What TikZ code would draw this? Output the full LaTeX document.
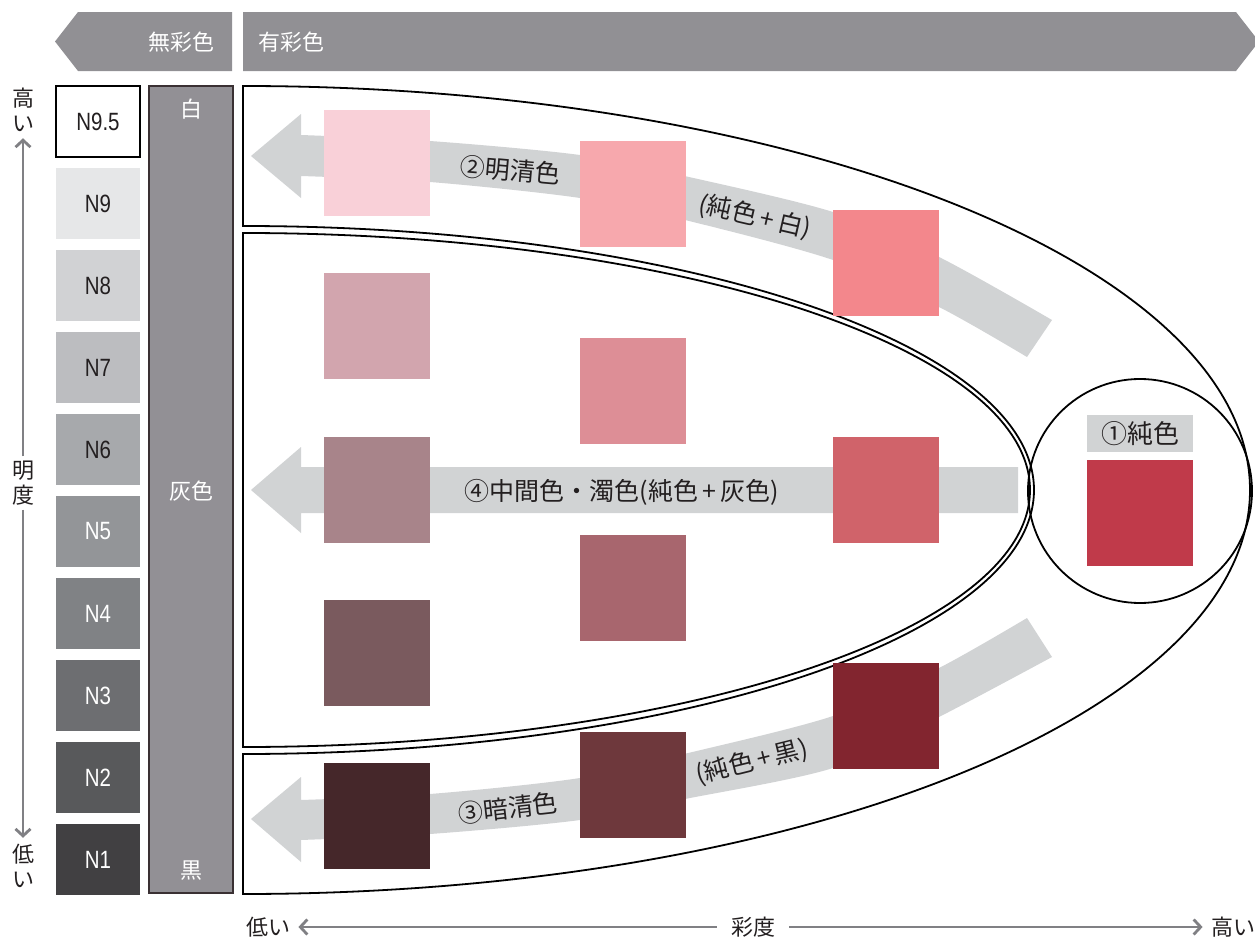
\documentclass[tikz,border=0pt]{standalone}
\usepackage{fontspec}
\setmainfont{Noto Sans CJK JP}
\newfontfamily\nfont[FakeStretch=0.82]{Liberation Sans}
\usetikzlibrary{arrows.meta, positioning}

\definecolor{ink}{HTML}{231F20}
\definecolor{bannergray}{HTML}{919094}
\definecolor{colgray}{HTML}{929095}
\definecolor{colborder}{HTML}{3A3033}
\definecolor{bandgray}{HTML}{D1D3D4}
\definecolor{axisgray}{HTML}{808084}
\definecolor{n9}{HTML}{E6E7E8}
\definecolor{n8}{HTML}{D1D2D4}
\definecolor{n7}{HTML}{BCBDC0}
\definecolor{n6}{HTML}{A7A9AC}
\definecolor{n5}{HTML}{939598}
\definecolor{n4}{HTML}{808285}
\definecolor{n3}{HTML}{6D6E71}
\definecolor{n2}{HTML}{58595B}
\definecolor{n1}{HTML}{414042}

\begin{document}
\begin{tikzpicture}[
    x=0.5pt,
    y=-0.5pt,
    node distance=5.5pt,
    every node/.style={text=ink},
    banner/.style={fill=bannergray},
    nbox/.style={minimum width=42pt, minimum height=35.5pt, inner sep=0pt, outer sep=0pt,
        font=\nfont\fontsize{12.5pt}{12.5pt}\selectfont},
    swatch/.style={minimum size=53pt, inner sep=0pt},
    region/.style={draw=black, line width=0.9pt},
    band/.style={fill=bandgray},
    bandtext/.style={font=\fontsize{12.5pt}{12.5pt}\selectfont, inner sep=0pt},
    wlabel/.style={text=white, font=\fontsize{11pt}{11pt}\selectfont},
    axis/.style={draw=axisgray, line width=1.4pt, -{Straight Barb[length=3.5pt, width=7.5pt]}},
    axislabel/.style={font=\fontsize{11pt}{12.5pt}\selectfont, align=center, inner sep=0pt},
]
    \useasboundingbox (0,0) rectangle (1255,937);

    % banners
    \fill[banner] (232,12) -- (78,12) -- (55,41.5) -- (78,71) -- (232,71) -- cycle;
    \fill[banner] (243,12) -- (1236,12) -- (1259,41.5) -- (1236,71) -- (243,71) -- cycle;
    \node[wlabel, anchor=east] (achrom) at (222,42) {無彩色};
    \node[wlabel, anchor=west] (chrom)  at (251,42) {有彩色};

    % value axis
    \node[axislabel] (valHigh) at (23,110) {高\\い};
    \node[axislabel] (value)   at (23,483) {明\\度};
    \node[axislabel] (valLow)  at (23,866) {低\\い};
    \draw[axis, shorten <=2pt, shorten >=3pt] (value) -- (valHigh);
    \draw[axis, shorten <=2pt, shorten >=3pt] (value) -- (valLow);

    % chroma axis
    \node[axislabel] (chrLow)  at (268,927)  {低い};
    \node[axislabel] (chroma)  at (753,927)  {彩度};
    \node[axislabel] (chrHigh) at (1233,927) {高い};
    \draw[axis, shorten <=7pt, shorten >=4pt] (chroma) -- (chrLow);
    \draw[axis, shorten <=7pt, shorten >=4pt] (chroma) -- (chrHigh);

    % neutral scale
    \node[nbox, draw=black, line width=0.6pt, fill=white] (n95) at (98,121.5) {N9.5};
    \node[nbox, fill=n9, below=of n95] (n9b) {N9};
    \node[nbox, fill=n8, below=of n9b] (n8b) {N8};
    \node[nbox, fill=n7, below=of n8b] (n7b) {N7};
    \node[nbox, fill=n6, below=of n7b] (n6b) {N6};
    \node[nbox, fill=n5, below=of n6b, text=white] (n5b) {N5};
    \node[nbox, fill=n4, below=of n5b, text=white] (n4b) {N4};
    \node[nbox, fill=n3, below=of n4b, text=white] (n3b) {N3};
    \node[nbox, fill=n2, below=of n3b, text=white] (n2b) {N2};
    \node[nbox, fill=n1, below=of n2b, text=white] (n1b) {N1};

    \node[minimum width=42pt, minimum height=403.5pt, fill=colgray, draw=colborder,
        line width=0.6pt] (grayCol) at (191,489.5) {};
    \node[wlabel] (white) at (191,109) {白};
    \node[wlabel] (gray)  at (191,491) {灰色};
    \node[wlabel] (black) at (191,871) {黒};

    % regions
    \draw[region] (243,86) arc[start angle=90, end angle=-90, x radius=503.5pt, y radius=202pt]
        -- (243,754) arc[start angle=-90, end angle=90, x radius=395.5pt, y radius=132pt] -- cycle;
    \draw[region] (243,233) arc[start angle=90, end angle=-90, x radius=393.5pt, y radius=128.5pt] -- cycle;
    \node[draw=black, line width=0.9pt, circle, minimum size=112pt, inner sep=0pt] (pureRing) at (1140,491) {};

    % arrows
    \fill[band] plot[smooth] coordinates {(301,135) (430,141) (580,155) (680,175) (833,212) (939,257) (1052,320)}
        -- plot[smooth] coordinates {(1027,357) (939,307) (833,260) (685,220) (580,198) (430,182) (301,176)}
        -- (301,198) -- (251,156) -- (301,114) -- cycle;
    \fill[band] plot[smooth] coordinates {(301,800) (430,794) (580,778) (680,755) (833,716) (939,668) (1027,618)}
        -- plot[smooth] coordinates {(1052,657) (939,717) (833,768) (680,800) (580,820) (430,834) (301,840)}
        -- (301,862) -- (251,819) -- (301,777) -- cycle;
    \fill[band] (1018,467) -- (301,467) -- (301,447) -- (251,490) -- (301,533) -- (301,513) -- (1018,513) -- cycle;

    % swatches
    \node[swatch, fill={rgb,255:red,249;green,208;blue,216}] (bright1) at (377,162.5) {};
    \node[swatch, fill={rgb,255:red,247;green,168;blue,173}] (bright2) at (632.5,193.5) {};
    \node[swatch, fill={rgb,255:red,243;green,135;blue,140}] (bright3) at (886,263) {};
    \node[swatch, fill={rgb,255:red,210;green,165;blue,174}] (mid1a) at (377,325.5) {};
    \node[swatch, fill={rgb,255:red,221;green,142;blue,150}] (mid2a) at (632.5,390.5) {};
    \node[swatch, fill={rgb,255:red,168;green,132;blue,138}] (mid1b) at (377,490) {};
    \node[swatch, fill={rgb,255:red,208;green,99;blue,106}]  (mid3b) at (886,490) {};
    \node[swatch, fill={rgb,255:red,168;green,102;blue,110}] (mid2c) at (632.5,587.5) {};
    \node[swatch, fill={rgb,255:red,122;green,90;blue,94}]   (mid1d) at (377,652.5) {};
    \node[swatch, fill={rgb,255:red,130;green,37;blue,47}]   (dark3) at (886,715.5) {};
    \node[swatch, fill={rgb,255:red,110;green,56;blue,60}]   (dark2) at (632.5,784.5) {};
    \node[swatch, fill={rgb,255:red,69;green,39;blue,42}]    (dark1) at (377,815.5) {};
    \node[swatch, fill={rgb,255:red,192;green,58;blue,74}]   (pure) at (1140,513) {};
    \node[fill=bandgray, minimum width=53pt, minimum height=18.5pt, inner sep=0pt,
        font=\fontsize{13pt}{13pt}\selectfont] (pureText) at (1140,433.5) {①純色};

    % texts
    \node[bandtext, rotate=-5]  (brightText) at (510,170) {②明清色};
    \node[bandtext, rotate=-13] (brightMix)  at (755,217) {(純色\,+\,白)};
    \node[bandtext, rotate=6.5] (darkText)   at (508,808) {③暗清色};
    \node[bandtext, rotate=14]  (darkMix)    at (752,762) {(純色\,+\,黒)};
    \node[bandtext]             (midText)    at (622,492) {④中間色・濁色(純色\,+\,灰色)};
\end{tikzpicture}
\end{document}
